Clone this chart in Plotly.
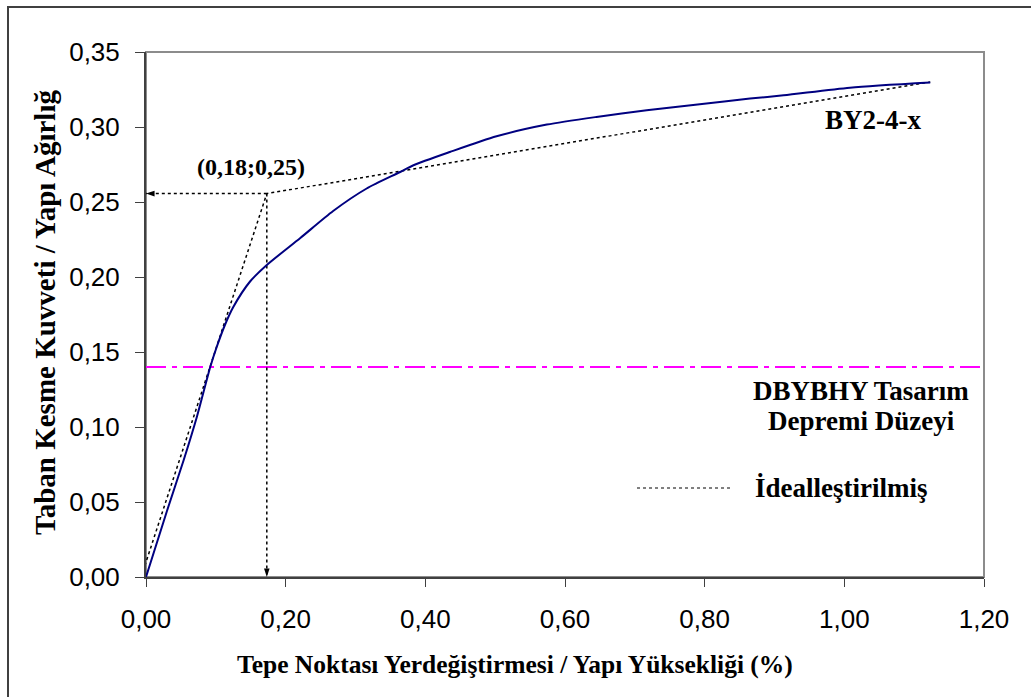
import plotly.graph_objects as go

# ---- data ----
capacity_x = [0.000, 0.030, 0.054, 0.073, 0.092, 0.101, 0.113, 0.125, 0.149, 0.173, 0.221, 0.268,
              0.316, 0.364, 0.383, 0.435, 0.502, 0.574, 0.645, 0.717, 0.793, 0.865, 0.913, 1.008, 1.123]
capacity_y = [0.000, 0.044, 0.078, 0.107, 0.140, 0.153, 0.168, 0.180, 0.197, 0.208, 0.226, 0.244,
              0.259, 0.270, 0.2745, 0.2833, 0.2938, 0.3016, 0.3067, 0.3111, 0.3151, 0.319, 0.3211, 0.3262, 0.3296]

ideal_x = [-0.007, 0.173, 1.123]
ideal_y = [0.000, 0.2556, 0.330]

yield_point = (0.173, 0.2556)
design_level = 0.14

x_ticks = [0.0, 0.2, 0.4, 0.6, 0.8, 1.0, 1.2]
y_ticks = [0.00, 0.05, 0.10, 0.15, 0.20, 0.25, 0.30, 0.35]

# ---- geometry helpers (pixel -> paper) ----
W, H = 1031, 697
L, R, T, B = 146, 47, 52, 120
pw, ph = W - L - R, H - T - B


def px(x):
    return (x - L) / pw


def py(y):
    return (H - B - y) / ph


SERIF = "Liberation Serif, Times New Roman, serif"
SANS = "Liberation Sans, Arial, sans-serif"

fig = go.Figure()

# design earthquake level line
fig.add_trace(go.Scatter(x=[0, 1.2], y=[design_level, design_level], mode="lines",
                         line=dict(color="#FF00FF", width=2, dash="20px,6px,5px,6px"),
                         showlegend=False, hoverinfo="skip"))

# idealized bilinear
fig.add_trace(go.Scatter(x=ideal_x, y=ideal_y, mode="lines",
                         line=dict(color="black", width=1.5, dash="dot"),
                         showlegend=False, name="İdealleştirilmiş"))

# arrows from yield point to the axes
fig.add_trace(go.Scatter(x=[yield_point[0], 0], y=[yield_point[1], yield_point[1]], mode="lines",
                         line=dict(color="black", width=1.5, dash="dot"), showlegend=False, hoverinfo="skip"))
fig.add_trace(go.Scatter(x=[yield_point[0], yield_point[0]], y=[yield_point[1], 0], mode="lines",
                         line=dict(color="black", width=1.5, dash="dot"), showlegend=False, hoverinfo="skip"))
fig.add_trace(go.Scatter(x=[0, yield_point[0]], y=[yield_point[1], 0], mode="markers",
                         marker=dict(symbol="arrow", size=9, color="black", angle=[-90, 180]),
                         cliponaxis=False, showlegend=False, hoverinfo="skip"))

# capacity curve
fig.add_trace(go.Scatter(x=capacity_x, y=capacity_y, mode="lines",
                         line=dict(color="#000080", width=2, shape="spline", smoothing=0.7),
                         showlegend=False, name="BY2-4-x"))

shapes = [
    # plot frame (top/right light gray)
    dict(type="rect", xref="paper", yref="paper", x0=0, y0=0, x1=1, y1=1,
         line=dict(color="#8c8c8c", width=2), layer="below"),
    # outer border (left and top)
    dict(type="line", xref="paper", yref="paper", x0=px(8), x1=px(8), y0=py(6), y1=py(700),
         line=dict(color="#404040", width=2)),
    dict(type="line", xref="paper", yref="paper", x0=px(7), x1=px(1040), y0=py(7), y1=py(7),
         line=dict(color="#404040", width=2)),
    # legend sample
    dict(type="line", xref="paper", yref="paper", x0=px(637), x1=px(732), y0=py(488), y1=py(488),
         line=dict(color="black", width=1, dash="dot")),
]

ann_font = dict(family=SERIF, size=27, color="black")
annotations = [
    dict(text="<b>(0,18;0,25)</b>", x=px(251), y=py(167), font=dict(family=SERIF, size=24, color="black")),
    dict(text="<b>BY2-4-x</b>", x=px(873), y=py(120), font=ann_font),
    dict(text="<b>DBYBHY Tasarım</b>", x=px(861), y=py(391), font=ann_font),
    dict(text="<b>Depremi Düzeyi</b>", x=px(861), y=py(421), font=ann_font),
    dict(text="<b>İdealleştirilmiş</b>", x=px(753), y=py(488), xanchor="left", font=ann_font),
    dict(text="<b>Tepe Noktası Yerdeğiştirmesi / Yapı Yüksekliği (%)</b>", x=px(515), y=py(664),
         font=dict(family=SERIF, size=25.5, color="black")),
    dict(text="<b>Taban Kesme Kuvveti / Yapı Ağırlığ</b>", x=px(45), y=py(313), textangle=-90,
         font=dict(family=SERIF, size=29, color="black")),
]
for a in annotations:
    a.setdefault("xref", "paper")
    a.setdefault("yref", "paper")
    a.setdefault("showarrow", False)
    a.setdefault("xanchor", "center")
    a.setdefault("yanchor", "middle")

fig.update_layout(
    width=W, height=H,
    margin=dict(l=L, r=R, t=T, b=B, autoexpand=False),
    paper_bgcolor="white", plot_bgcolor="white",
    separators=", ",
    shapes=shapes, annotations=annotations,
    showlegend=False,
    xaxis=dict(range=[0, 1.2], tickvals=x_ticks, tickformat=".2f", showgrid=False, zeroline=False,
               showline=True, linecolor="#404040", linewidth=2, ticks="outside", ticklen=8,
               tickwidth=1, tickcolor="#404040", ticklabelstandoff=10,
               tickfont=dict(family=SANS, size=26, color="black")),
    yaxis=dict(range=[0, 0.35], tickvals=y_ticks, tickformat=".2f", showgrid=False, zeroline=False,
               showline=True, linecolor="#404040", linewidth=2, ticks="outside", ticklen=9,
               tickwidth=1, tickcolor="#404040", ticklabelstandoff=10,
               tickfont=dict(family=SANS, size=26, color="black")),
)

fig.write_html("out.html", config={"displayModeBar": False},
               post_script="document.body.style.margin='0';document.body.style.overflow='hidden';")
